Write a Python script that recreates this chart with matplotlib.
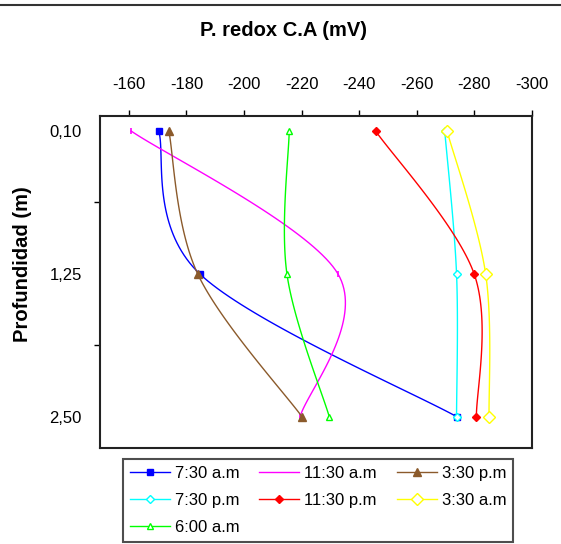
import numpy as np
import matplotlib
matplotlib.use("Agg")
import matplotlib.pyplot as plt
from matplotlib.lines import Line2D

plt.rcParams['font.family'] = ['Liberation Sans', 'DejaVu Sans']

# ---- data ----
depth_labels = ["0,10", "1,25", "2,50"]
series_names = ["7:30 a.m", "11:30 a.m", "3:30 p.m", "7:30 p.m",
                "11:30 p.m", "3:30 a.m", "6:00 a.m"]
v_0730am = [-170.4, -184.6, -273.8]
v_1130am = [-160.8, -232.6, -219.5]
v_0330pm = [-173.9, -183.9, -220.1]
v_0730pm = [-269.7, -273.8, -273.8]
v_1130pm = [-245.7, -279.9, -280.7]
v_0330am = [-270.5, -283.9, -285.1]
v_0600am = [-215.7, -214.9, -229.6]
x_ticks = [-160, -180, -200, -220, -240, -260, -280, -300]

values = [v_0730am, v_1130am, v_0330pm, v_0730pm, v_1130pm, v_0330am, v_0600am]
colors = ['#0000FF', '#FF00FF', '#8B5A2B', '#00FFFF', '#FF0000', '#FFFF00', '#00FF00']
markers = ['s', '|', '^', 'D', 'D', 'D', '^']
msizes = [3.8, 5, 5.5, 3.6, 4.2, 5.8, 4.2]
mfaces = ['#0000FF', '#FF00FF', '#8B5A2B', 'white', '#FF0000', 'white', 'white']

NSEG = 40


def smooth(xs, ys, n=NSEG):
    P = np.column_stack([xs, ys]).astype(float)
    E = np.vstack([P[0], P, P[-1]])
    t = np.linspace(0, 1, n + 1)
    out = []
    for i in range(len(P) - 1):
        p0, p1, p2, p3 = E[i], E[i + 1], E[i + 2], E[i + 3]
        c1 = p1 + (p2 - p0) / 6.0
        c2 = p2 - (p3 - p1) / 6.0
        tt = t[:, None] if i == 0 else t[1:, None]
        b = ((1 - tt) ** 3) * p1 + 3 * ((1 - tt) ** 2) * tt * c1 \
            + 3 * (1 - tt) * tt ** 2 * c2 + tt ** 3 * p2
        out.append(b)
    B = np.vstack(out)
    return B[:, 0], B[:, 1]


fig = plt.figure(figsize=(5.61, 5.44), dpi=100)
ax = fig.add_axes([100 / 561, 1 - 448 / 544, 432 / 561, 332 / 544])

ypos = np.arange(len(depth_labels))
handles = []
for name, vals, c, m, ms, mf in zip(series_names, values, colors, markers, msizes, mfaces):
    sx, sy = smooth(vals, ypos)
    if m == '|':
        ln, = ax.plot(sx, sy, color=c, lw=1.0, label=name)
        ax.plot(vals, ypos, linestyle='none', marker='|', color=c,
                markersize=ms, markeredgewidth=1.2)
    else:
        ln, = ax.plot(sx, sy, color=c, lw=1.0, label=name,
                      marker=m, markersize=ms, markerfacecolor=mf,
                      markeredgecolor=c, markeredgewidth=1.0,
                      markevery=[0, NSEG, 2 * NSEG])
    handles.append(ln)

ax.set_xlim(-150, -300)
ax.set_ylim(2.22, -0.105)
ax.xaxis.tick_top()
ax.set_xticks(x_ticks)
ax.set_xticklabels([str(v) for v in x_ticks], fontsize=12)
ax.tick_params(axis='x', direction='out', length=4, width=1, pad=13, colors='black')
ax.set_yticks(ypos)
ax.set_yticklabels(depth_labels, fontsize=12)
ax.set_yticks([0.5, 1.5], minor=True)
ax.tick_params(axis='y', which='major', length=0, pad=13)
ax.tick_params(axis='y', which='minor', direction='out', length=4, width=1)
for s in ax.spines.values():
    s.set_linewidth(1.5)
    s.set_color('#222222')

fig.text(0.506, 1 - 30 / 544, "P. redox C.A (mV)", ha='center', va='center',
         fontsize=14.5, fontweight='bold')
fig.text(23 / 561, 1 - 264 / 544, "Profundidad (m)", ha='center', va='center',
         rotation=90, fontsize=14.5, fontweight='bold')

order = [0, 3, 6, 1, 4, 2, 5]
leg = fig.legend([handles[i] for i in order], [series_names[i] for i in order],
                 ncol=3, loc='lower center', bbox_to_anchor=(318 / 561, 1 - 542 / 544),
                 fontsize=12, frameon=True, fancybox=False, edgecolor='#222222',
                 handlelength=2.4, handletextpad=0.3, columnspacing=1.2,
                 labelspacing=0.74, borderpad=0.4, borderaxespad=0, numpoints=1)
leg.get_frame().set_linewidth(1.5)

fig.add_artist(Line2D([0, 1], [1 - 5 / 544, 1 - 5 / 544], transform=fig.transFigure,
                      color='#333333', lw=1.5))

fig.savefig("out.png", dpi=100)
